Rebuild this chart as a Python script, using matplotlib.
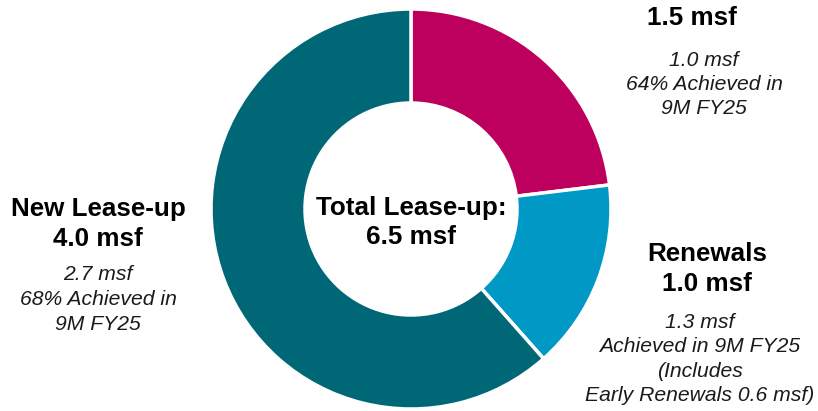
import matplotlib.pyplot as plt

plt.rcParams['font.family'] = ['Liberation Sans', 'DejaVu Sans']

W, H = 818, 411

# lease-up split, msf
segments = ['Other', 'Renewals', 'New Lease-up']
values = [1.5, 1.0, 4.0]
colors = ['#BD005E', '#0099C6', '#006777']
total = sum(values)

# annotation blocks: (x, first bold y, bold lines, first italic y, italic lines, italic x)
blocks = [
    (692, 18, ['1.5 msf'], 60, ['1.0 msf', '64% Achieved in', '9M FY25'], 704),
    (707, 254, ['Renewals', '1.0 msf'], 322,
     ['1.3 msf', 'Achieved in 9M FY25', '(Includes', 'Early Renewals 0.6 msf)'], 700),
    (98, 209, ['New Lease-up', '4.0 msf'], 275, ['2.7 msf', '68% Achieved in', '9M FY25'], 98),
]
center_lines = ['Total Lease-up:', f'{total:.1f} msf']

BOLD_STEP = 30
ITALIC_STEP = 24.5

fig = plt.figure(figsize=(W / 100, H / 100), dpi=100)
ax = fig.add_axes([0, 0, 1, 1])

ax.pie(values, colors=colors, startangle=90, counterclock=False,
       radius=200, center=(411, H - 209),
       wedgeprops=dict(width=94, edgecolor='white', linewidth=2.5))
ax.set_xlim(0, W)
ax.set_ylim(0, H)
ax.set_aspect('auto')
ax.axis('off')


def py(y):
    return H - y


for x, yb, bold, yi, italic, xi in blocks:
    for i, line in enumerate(bold):
        ax.text(x, py(yb + i * BOLD_STEP), line, ha='center', va='center',
                fontsize=18.7, fontweight='bold', color='black')
    for i, line in enumerate(italic):
        ax.text(xi, py(yi + i * ITALIC_STEP), line, ha='center', va='center',
                fontsize=15.2, fontstyle='italic', color='#1a1a1a')

for i, line in enumerate(center_lines):
    ax.text(411, py(208 + i * 29), line, ha='center', va='center',
            fontsize=18.7, fontweight='bold', color='black')

fig.savefig('out.png', dpi=100)
